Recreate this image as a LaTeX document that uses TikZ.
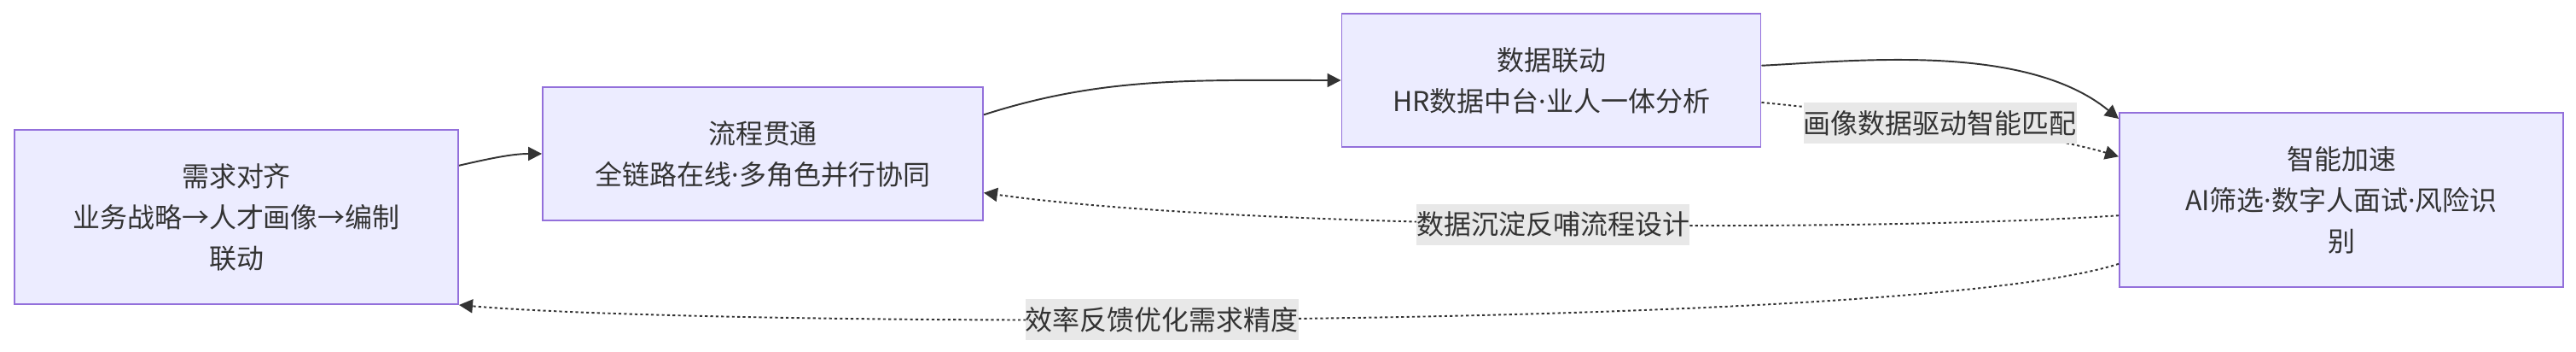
\documentclass[tikz,border=0pt]{standalone}
\usepackage{fontspec}
\setmainfont{Noto Sans CJK SC}
\newfontfamily\latinfont{Noto Sans}
\newcommand{\mdot}{{\latinfont ·}}
\usetikzlibrary{arrows.meta}
\definecolor{hrLavender}{HTML}{ECECFF}
\definecolor{hrPurple}{HTML}{9370DB}
\definecolor{hrInk}{HTML}{333333}
\definecolor{hrTag}{HTML}{E8E8E8}

\begin{document}
\begin{tikzpicture}[
  >={Triangle[length=0.32cm, width=0.32cm]},
  font=\fontsize{18.2}{27.3}\selectfont,
  flow/.style={->, line width=1.1pt, draw=hrInk},
  feedback/.style={->, line width=1.1pt, draw=hrInk, dash pattern=on 1.8pt off 1.8pt},
  phasebox/.style={draw=hrPurple, line width=1.1pt, fill=hrLavender, text=hrInk, align=center, inner sep=0pt},
  tag/.style={fill=hrTag, text=hrInk, inner sep=0pt, minimum height=0.96cm}
]

  \useasboundingbox (0,0) rectangle (60.38,8.24);

  % four phases
  \node[phasebox, minimum width=10.4cm, minimum height=4.08cm] (demand) at (5.54,3.16)
    {需求对齐\\业务战略→人才画像→编制\\联动};
  \node[phasebox, minimum width=10.32cm, minimum height=3.12cm] (process) at (17.88,4.64)
    {流程贯通\\全链路在线\mdot 多角色并行协同};
  \node[phasebox, minimum width=9.82cm, minimum height=3.12cm] (data) at (36.36,6.36)
    {数据联动\\HR数据中台\mdot 业人一体分析};
  \node[phasebox, minimum width=10.4cm, minimum height=4.08cm] (smart) at (54.88,3.56)
    {智能加速\\AI筛选\mdot 数字人面试\mdot 风险识\\别};

  % forward chain
  \draw[flow] (demand.13.4) .. controls +(0.7,0.16) and +(-0.7,0) .. (process.west);
  \draw[flow] (process.10.5) .. controls +(2.8,0.9) and +(-3.4,0) .. (data.west);
  \draw[flow] (data.4) .. controls +(2.12,0.1) and +(-2.2,1.8) .. (smart.160.1);
  \draw[feedback] (data.-6.7) .. controls +(2,-0.2) and +(-2,0.6) .. (smart.169.3)
    node[tag, pos=0.5] {画像数据驱动智能匹配};

  % feedback loops
  \draw[feedback] (smart.184) .. controls +(-6,-0.4) and +(6.12,-0.86) .. (process.-10.75)
    node[tag, pos=0.5] {数据沉淀反哺流程设计};
  \draw[feedback] (smart.196.3) .. controls +(-5,-1.6) and +(6,-0.52) .. (demand.south east)
    node[tag, pos=0.567] {效率反馈优化需求精度};

\end{tikzpicture}
\end{document}
